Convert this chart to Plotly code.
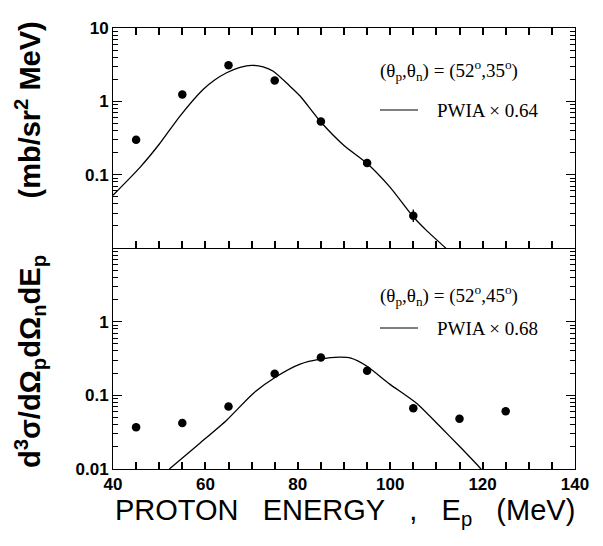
import plotly.graph_objects as go

# ---- data ----
# top panel (theta_p, theta_n) = (52, 35)
top_x = [45, 55, 65, 75, 85, 95, 105]
top_y = [0.30, 1.24, 3.1, 1.92, 0.53, 0.144, 0.0276]
top_err_plus = [0, 0, 0, 0, 0, 0, 0.006]
top_err_minus = [0, 0, 0, 0, 0, 0, 0.005]
top_curve_x = [40, 45.8, 50, 54.5, 59.5, 62, 64.6, 67.5, 70.0, 72.5, 74.7, 78.3, 80.5, 84.8, 90, 94.9, 100, 104.7, 108, 111.5, 112.5]
top_curve_y = [0.0525, 0.125, 0.26, 0.63, 1.45, 1.95, 2.45, 2.9, 3.1, 2.95, 2.57, 1.61, 1.18, 0.54, 0.25, 0.144, 0.067, 0.028, 0.017, 0.0107, 0.0093]

# bottom panel (theta_p, theta_n) = (52, 45)
bot_x = [45, 55, 65, 75, 85, 95, 105, 115, 125]
bot_y = [0.037, 0.042, 0.0705, 0.196, 0.327, 0.215, 0.067, 0.048, 0.061]
bot_curve_x = [52.2, 58.8, 64.6, 70.4, 75.4, 80.5, 84.8, 89.1, 91.5, 94.9, 99.9, 105.7, 110.8, 115.1, 119.4, 120]
bot_curve_y = [0.01, 0.0224, 0.046, 0.107, 0.18, 0.265, 0.31, 0.33, 0.32, 0.25, 0.142, 0.078, 0.0377, 0.02, 0.0104, 0.0093]

x_tickvals = list(range(40, 141, 5))
x_ticklabels = [str(v) if v % 20 == 0 else "" for v in x_tickvals]
top_yticks = [0.1, 1, 10]
top_yticktext = ["0.1", "1", "10"]
bot_yticks = [0.01, 0.1, 1]
bot_yticktext = ["0.01", "0.1", "1"]
minor_log = [m * 10 ** e for e in (-2, -1, 0) for m in range(2, 10)]

top_label = "(θ<sub>p</sub>,θ<sub>n</sub>) = (52<sup>o</sup>,35<sup>o</sup>)"
top_pwia = "PWIA × 0.64"
bot_label = "(θ<sub>p</sub>,θ<sub>n</sub>) = (52<sup>o</sup>,45<sup>o</sup>)"
bot_pwia = "PWIA × 0.68"

# ---- figure ----
fig = go.Figure()
line_style = dict(color="black", width=1.3, shape="spline", smoothing=0.6)
marker_style = dict(color="black", size=8.5, symbol="circle")

fig.add_trace(go.Scatter(x=top_curve_x, y=top_curve_y, mode="lines", line=line_style,
                         xaxis="x2", yaxis="y2", showlegend=False))
fig.add_trace(go.Scatter(x=top_x, y=top_y, mode="markers", marker=marker_style,
                         error_y=dict(type="data", array=top_err_plus, arrayminus=top_err_minus,
                                      color="black", thickness=1.3, width=0),
                         xaxis="x2", yaxis="y2", showlegend=False))
fig.add_trace(go.Scatter(x=bot_curve_x, y=bot_curve_y, mode="lines", line=line_style,
                         xaxis="x", yaxis="y", showlegend=False))
fig.add_trace(go.Scatter(x=bot_x, y=bot_y, mode="markers", marker=marker_style,
                         xaxis="x", yaxis="y", showlegend=False))

tickfont = dict(family="Liberation Sans, Arial", size=17, color="black", weight="bold")

dom_split = 221 / 441

fig.update_layout(
    width=603, height=546,
    margin=dict(l=113, r=28, t=28, b=77),
    plot_bgcolor="white",
    # bottom panel x axis: ticks at its own line only (no mirror)
    xaxis=dict(range=[40, 140], tickvals=x_tickvals, ticktext=x_ticklabels,
               ticks="inside", ticklen=7, tickwidth=1.5, tickcolor="black",
               showline=True, linecolor="black", anchor="y", tickfont=tickfont),
    # top panel x axis: ticks at its bottom line and mirrored on top
    xaxis2=dict(range=[40, 140], tickvals=x_tickvals, ticks="inside", mirror="ticks",
                ticklen=7, tickwidth=1.5, tickcolor="black",
                showline=True, linecolor="black", anchor="y2", showticklabels=False),
    yaxis=dict(type="log", range=[-2, 1], domain=[0, dom_split], anchor="x",
               tickvals=bot_yticks, ticktext=bot_yticktext, tickfont=tickfont,
               ticks="inside", ticklen=9, tickcolor="black", showline=True,
               linecolor="black", mirror="ticks",
               minor=dict(tickmode="array", tickvals=minor_log, ticks="inside",
                          ticklen=5, tickcolor="black")),
    yaxis2=dict(type="log", range=[-2, 1], domain=[dom_split, 1], anchor="x2",
                tickvals=top_yticks, ticktext=top_yticktext, tickfont=tickfont,
                ticks="inside", ticklen=9, tickcolor="black", showline=True,
                linecolor="black", mirror="ticks",
                minor=dict(tickmode="array", tickvals=minor_log, ticks="inside",
                           ticklen=5, tickcolor="black")),
)

serif = dict(family="Liberation Serif, Times New Roman", size=19, color="black")
annots = [
    dict(x=(380 - 113) / 462, y=(469 - 70) / 441, text=top_label),
    dict(x=(437 - 113) / 462, y=(469 - 110) / 441, text=top_pwia),
    dict(x=(380 - 113) / 462, y=(469 - 295) / 441, text=bot_label),
    dict(x=(437 - 113) / 462, y=(469 - 328) / 441, text=bot_pwia),
]
for a in annots:
    fig.add_annotation(xref="paper", yref="paper", xanchor="left", yanchor="middle",
                       showarrow=False, font=serif, xshift=-2, **a)

for yp in [110, 328]:
    fig.add_shape(type="line", xref="paper", yref="paper",
                  x0=(380 - 113) / 462, x1=(418 - 113) / 462,
                  y0=(469 - yp) / 441, y1=(469 - yp) / 441,
                  line=dict(color="black", width=1))

fig.add_annotation(xref="paper", yref="paper", x=(345 - 113) / 462, y=(469 - 512) / 441,
                   xanchor="center", yanchor="middle", showarrow=False,
                   text="PROTON\u00a0\u00a0\u00a0ENERGY\u00a0\u00a0\u00a0,\u00a0\u00a0\u00a0E<sub>p</sub>\u00a0\u00a0\u00a0(MeV)",
                   font=dict(family="Liberation Sans, Arial", size=29, color="black"))

fig.add_annotation(xref="paper", yref="paper", x=(30 - 113) / 462, y=(469 - 245) / 441,
                   xanchor="center", yanchor="middle", showarrow=False, textangle=-90,
                   text="d<sup>3</sup>σ/dΩ<sub>p</sub>dΩ<sub>n</sub>dE<sub>p</sub>\u00a0\u00a0\u00a0\u00a0\u00a0\u00a0\u00a0(mb/sr<sup>2</sup>\u00a0MeV)",
                   font=dict(family="Liberation Sans, Arial", size=29, color="black", weight="bold"))

fig.write_html("out.html")
